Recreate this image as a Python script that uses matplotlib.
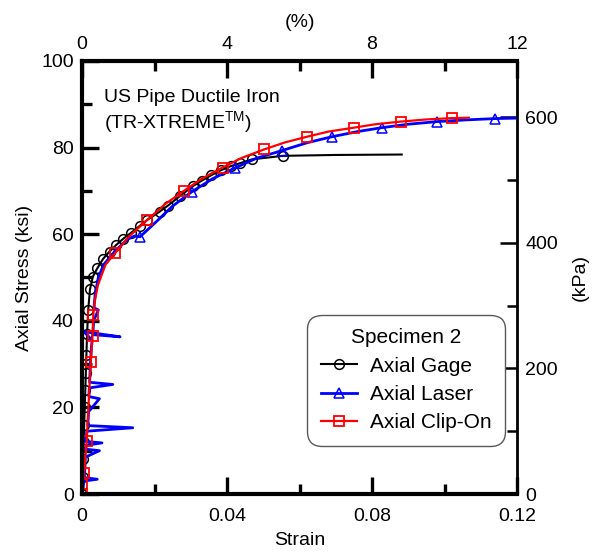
import matplotlib
matplotlib.use("Agg")
import matplotlib.pyplot as plt
from matplotlib.ticker import MultipleLocator

plt.rcParams['font.family'] = ['Liberation Sans', 'DejaVu Sans']
plt.rcParams['mathtext.fontset'] = 'custom'
plt.rcParams['mathtext.rm'] = 'Liberation Sans'

# Axial gage (circles)
gage_strain = [0, 0.00015, 0.0003, 0.00045, 0.0006, 0.00075, 0.0009, 0.00105, 0.0012, 0.0014,
               0.0017, 0.0022, 0.003, 0.0042, 0.0058, 0.0076, 0.0094, 0.0113, 0.0135, 0.0159,
               0.018, 0.0214, 0.0237, 0.027, 0.0306, 0.0331, 0.0356, 0.0384, 0.041, 0.0436,
               0.047, 0.0555, 0.07, 0.0882]
gage_stress = [0, 4, 8, 12, 16, 20, 24, 28, 32, 37,
               42.5, 47.3, 50.2, 52.1, 54.3, 56, 57.5, 58.9, 60.3, 61.9,
               63.3, 65.2, 66.6, 68.8, 71.1, 72.4, 73.6, 74.8, 75.7, 76.4,
               77.3, 78.1, 78.3, 78.4]
gage_marks = list(range(32))

# Axial laser (triangles), noisy in the elastic range
laser_strain = [0, 0.0003, 0.0005, 0.0042, 0.0006, 0.0008, 0.0009, 0.0048, 0.0006, -0.001,
                0.0055, -0.001, 0.0012, 0.0013, 0.014, 0.0016, 0.0018, 0.0048, 0.0019, 0.002,
                0.0085, 0.0021, 0.0023, 0.0026, 0.0028, 0.0005, 0.0105, 0.003, 0.0032, 0.0045,
                0.0033, 0.0036, 0.0045, 0.006, 0.009, 0.0125, 0.0145, 0.016, 0.02, 0.025,
                0.0303, 0.036, 0.0422, 0.048, 0.0551, 0.062, 0.0689, 0.076, 0.0827, 0.09,
                0.098, 0.106, 0.114, 0.1195]
laser_stress = [0, 1.5, 3, 3.4, 3.8, 6, 8.5, 10.0, 10.4, 11.0,
                11.8, 12.3, 12.8, 14.5, 15.3, 15.8, 19, 22.0, 22.5, 24.5,
                25.3, 25.8, 30, 34, 35.5, 37.5, 36.3, 36.8, 40, 42.5,
                43, 46, 50, 53, 56, 58.8, 59.6, 59.4, 62.5, 66.5,
                69.8, 72.8, 75.3, 77.5, 79.3, 81.1, 82.5, 83.7, 84.6, 85.4,
                86, 86.4, 86.7, 86.8]
laser_marks = [37, 40, 42, 44, 46, 48, 50, 52]

# Axial clip-on (squares)
clip_strain = [0, 0.0001, 0.00055, 0.0013, 0.0024, 0.0029, 0.0031, 0.0035, 0.0044, 0.0065,
               0.0091, 0.013, 0.018, 0.023, 0.0281, 0.033, 0.0388, 0.044, 0.0503, 0.056,
               0.062, 0.068, 0.075, 0.081, 0.0879, 0.095, 0.102, 0.1067]
clip_stress = [0, 2.3, 4.8, 12.3, 30.5, 36.5, 41.3, 44.5, 48.3, 53,
               55.6, 59.5, 63.3, 67, 70, 72.8, 75.4, 77.6, 79.6, 81.2,
               82.5, 83.7, 84.6, 85.4, 86, 86.5, 86.8, 86.9]
clip_marks = [0, 1, 2, 3, 4, 5, 6, 10, 12, 14, 16, 18, 20, 22, 24, 26]

KSI_TO_KPA = 6.895

fig = plt.figure(figsize=(5.97, 5.57), dpi=100)
ax = fig.add_axes([0.1374, 0.1131, 0.7286, 0.7774])

ax.plot(gage_strain, gage_stress, color='black', lw=1.5, marker='o', ms=7,
        mfc='none', mec='black', mew=1.1, markevery=gage_marks, label='Axial Gage')
ax.plot(laser_strain, laser_stress, color='#0000ff', lw=2.0, marker='^', ms=7,
        mfc='none', mec='#0000ff', mew=1.1, markevery=laser_marks, label='Axial Laser')
ax.plot(clip_strain, clip_stress, color='#ff0000', lw=1.6, marker='s', ms=7,
        mfc='none', mec='#ff0000', mew=1.3, markevery=clip_marks, label='Axial Clip-On')

ax.set_xlim(0, 0.12)
ax.set_ylim(0, 100)
ax.set_xticks([0, 0.04, 0.08, 0.12])
ax.set_xticks([0.02, 0.06, 0.10], minor=True)
ax.set_xticklabels(['0', '0.04', '0.08', '0.12'])
ax.set_yticks([0, 20, 40, 60, 80, 100])
ax.set_yticks([10, 30, 50, 70, 90], minor=True)

for side in ['left', 'bottom']:
    ax.spines[side].set_linewidth(3)
ax.spines['right'].set_visible(False)
ax.spines['top'].set_visible(False)

ax.tick_params(which='major', direction='in', length=12, width=2.4, labelsize=14, pad=6)
ax.tick_params(axis='x', which='major', pad=10)
ax.tick_params(which='minor', direction='in', length=7, width=2.4)
ax.tick_params(right=False, top=False, which='both')

ax.set_xlabel('Strain', fontsize=14, labelpad=5)
ax.set_ylabel('Axial Stress (ksi)', fontsize=14, labelpad=6)

top = ax.secondary_xaxis('top', functions=(lambda x: x * 100, lambda p: p / 100))
top.spines['top'].set_linewidth(3)
top.set_xticks([0, 4, 8, 12])
top.set_xticks([2, 6, 10], minor=True)
top.tick_params(which='major', direction='in', length=12, width=2.4, labelsize=14, pad=6)
top.tick_params(which='minor', direction='in', length=7, width=2.4)
top.set_xlabel('(%)', fontsize=14, labelpad=6)

right = ax.secondary_yaxis('right', functions=(lambda s: s * KSI_TO_KPA, lambda k: k / KSI_TO_KPA))
right.spines['right'].set_linewidth(2)
right.set_yticks([0, 200, 400, 600])
right.set_yticks([100, 300, 500], minor=True)
right.tick_params(which='major', direction='in', length=12, width=1.8, labelsize=14, pad=6)
right.tick_params(which='minor', direction='in', length=7, width=1.8)
right.set_ylabel('(kPa)', fontsize=14, labelpad=10)

ax.text(0.05, 0.935, 'US Pipe Ductile Iron\n(TR-XTREME$^{\\mathrm{TM}}$)', transform=ax.transAxes,
        fontsize=14, va='top', ha='left', linespacing=1.15)

leg = ax.legend(title='Specimen 2', loc='lower right', bbox_to_anchor=(0.972, 0.111),
                borderaxespad=0, fontsize=15, title_fontsize=15, frameon=True, fancybox=True,
                edgecolor='0.35', framealpha=1, handlelength=1.75, labelspacing=0.45,
                handletextpad=0.6, borderpad=0.65)
leg.get_frame().set_linewidth(1.0)
leg.get_frame().set_boxstyle('round', pad=0, rounding_size=0.7)

fig.savefig('out.png', dpi=100)
